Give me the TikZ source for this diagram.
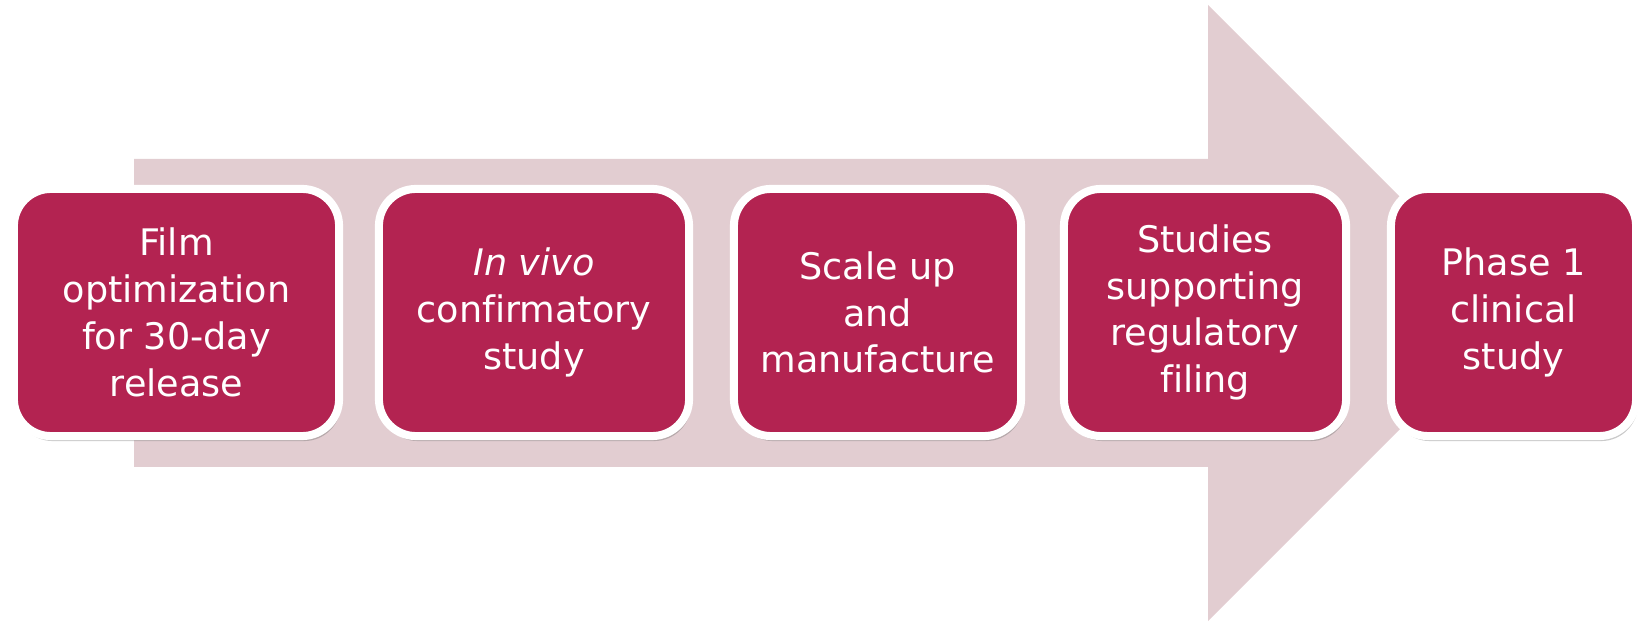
\documentclass[tikz,border=0pt]{standalone}
\usepackage{fontspec}
\setmainfont[Ligatures=CommonOff]{DejaVu Sans}
\usepackage{tikz}
\usetikzlibrary{shadows,positioning}
\definecolor{stagered}{RGB}{179,35,81}
\definecolor{arrowpink}{RGB}{226,205,209}
\tikzset{stage/.style={draw=white,line width=0.08cm,fill=stagered,text=white,
    rounded corners=0.37cm,minimum height=2.47cm,inner sep=0pt,align=center,
    font=\fontsize{10.4}{13.3}\selectfont,
    drop shadow={shadow xshift=0.02cm,shadow yshift=-0.05cm,opacity=0.35,fill=black!60}}}

\begin{document}
\begin{tikzpicture}[x=0.01cm,y=-0.01cm]
                \useasboundingbox (0,0) rectangle (1643,622);
                % big arrow behind the stages
                \fill[arrowpink] (134,159) -- (1208,159) -- (1208,5) -- (1516,313)
                    -- (1208,621) -- (1208,467) -- (134,467) -- cycle;
                \node[stage,minimum width=3.25cm] (film) at (176.5,312.5)
                    {Film\\optimization\\for 30-day\\release};
                \node[stage,minimum width=3.10cm] (vivo) at (534,312.5)
                    {\textit{In vivo}\\confirmatory\\study};
                \node[stage,minimum width=2.87cm] (scale) at (877.5,312.5)
                    {Scale up\\and\\manufacture};
                \node[stage,minimum width=2.82cm] (filing) at (1205,312.5)
                    {Studies\\supporting\\regulatory\\filing};
                \node[stage,minimum width=2.45cm] (phase) at (1513.5,312.5)
                    {Phase 1\\clinical\\study};
            \end{tikzpicture}
\end{document}
